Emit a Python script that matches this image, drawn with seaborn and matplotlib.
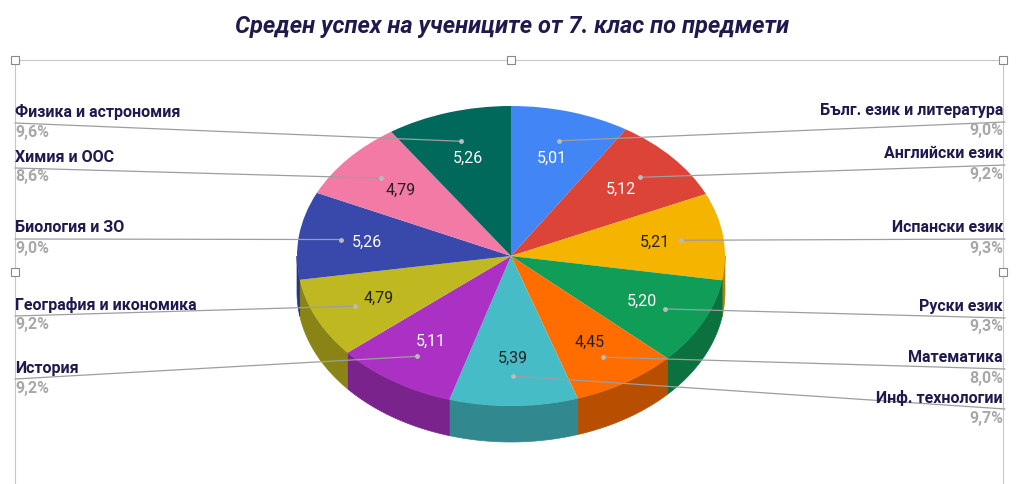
import numpy as np
import matplotlib
matplotlib.use("Agg")
import matplotlib.pyplot as plt
import seaborn as sns
from matplotlib.transforms import Affine2D
from matplotlib.patches import Polygon, Rectangle

sns.set_theme(style="white")
plt.rcParams['font.family'] = ['Roboto', 'DejaVu Sans']

# --- Data (clockwise from top) ---
subjects = ["Бълг. език и литература", "Английски език", "Испански език", "Руски език",
            "Математика", "Инф. технологии", "История", "География и икономика",
            "Биология и ЗО", "Химия и ООС", "Физика и астрономия"]
grades = [5.01, 5.12, 5.21, 5.20, 4.45, 5.39, 5.11, 4.79, 5.26, 4.79, 5.26]
shares = ["9,0%", "9,2%", "9,3%", "9,3%", "8,0%", "9,7%", "9,2%", "9,2%", "9,0%", "8,6%", "9,6%"]
colors = ["#4285F4", "#DB4437", "#F4B400", "#0F9D58", "#FF6D00", "#46BDC6",
          "#AB30C4", "#C0B820", "#3949AB", "#F47AA6", "#00695C"]
dark_text = [False, False, True, False, True, True, False, True, False, True, False]

# label layout (pixel y of name line, side)
label_y = [111, 154, 228, 307, 358, 398, 368, 305, 228, 157, 112]
side = ["R", "R", "R", "R", "R", "R", "L", "L", "L", "L", "L"]

W, H = 1024, 484
CX, CY, RX, RY, DEPTH = 511, H - 256, 214, 150, 36
NAVY = "#1F1A4D"

fig = plt.figure(figsize=(W / 100, H / 100), dpi=100)
ax = fig.add_axes([0, 0, 1, 1])

def darken(c, f=0.72):
    r, g, b = matplotlib.colors.to_rgb(c)
    return (r * f, g * f, b * f)

# slice angles (degrees, math convention), clockwise from 90
vals = np.array(grades)
cum = np.concatenate([[0], np.cumsum(vals)]) / vals.sum() * 360
starts = 90 - cum[:-1]
ends = 90 - cum[1:]

# side walls (front half only: angles 180..360)
for s, e, c in zip(starts, ends, colors):
    lo, hi = min(s, e), max(s, e)
    for off in (-360, 0, 360):
        l, h = max(lo + off, 180), min(hi + off, 360)
        if h > l:
            t = np.radians(np.linspace(l, h, 40))
            xs = CX + RX * np.cos(t)
            ys = CY + RY * np.sin(t)
            pts = np.column_stack([np.concatenate([xs, xs[::-1]]),
                                   np.concatenate([ys, ys[::-1] - DEPTH])])
            ax.add_patch(Polygon(pts, closed=True, fc=darken(c), ec=darken(c), lw=0.5, zorder=1))

# top face
wedges, _ = ax.pie(grades, startangle=90, counterclock=False, colors=colors,
                   wedgeprops=dict(linewidth=0))
tr = Affine2D().scale(RX, RY).translate(CX, CY) + ax.transData
for w in wedges:
    w.set_transform(tr)
    w.set_zorder(2)

for i, (s, e) in enumerate(zip(starts, ends)):
    m = np.radians((s + e) / 2)
    tx, ty = CX + 0.68 * RX * np.cos(m), CY + 0.68 * RY * np.sin(m)
    ax.text(tx, ty, f"{grades[i]:.2f}".replace(".", ","), ha="center", va="center",
            fontsize=11.5, color="#222222" if dark_text[i] else "white", zorder=3)
    # leader
    px, py = CX + 0.8 * RX * np.cos(m), CY + 0.8 * RY * np.sin(m)
    ly = H - label_y[i] - 11
    ex = 1005 if side[i] == "R" else 15
    ax.plot([px, ex], [py, ly], color="#9e9e9e", lw=0.9, zorder=4)
    ax.plot(px, py, "o", ms=2.5, color="#bbbbbb", zorder=5)
    ha = "right" if side[i] == "R" else "left"
    tx2 = 1003 if side[i] == "R" else 15
    ax.text(tx2, H - label_y[i], subjects[i], ha=ha, va="center", fontsize=11.5,
            fontweight="bold", color=NAVY, zorder=6)
    ax.text(tx2, H - label_y[i] - 20, shares[i], ha=ha, va="center", fontsize=11.5,
            fontweight="bold", color="#a8a8a8", zorder=6)

# selection frame
ax.plot([15, 1003], [H - 60, H - 60], color="#c8c8c8", lw=0.8)
ax.plot([15, 15], [H - 60, 0], color="#c8c8c8", lw=0.8)
ax.plot([1003, 1003], [H - 60, 0], color="#c8c8c8", lw=0.8)
for hx, hy in [(15, 60), (511, 60), (1003, 60), (15, 272), (1003, 272)]:
    ax.add_patch(Rectangle((hx - 4, H - hy - 4), 8, 8, fc="white", ec="#888888", lw=0.8, zorder=7))

ax.text(W / 2, H - 27, "Среден успех на учениците от 7. клас по предмети", ha="center",
        va="center", fontsize=17, fontweight="bold", fontstyle="italic", color=NAVY)

ax.set_aspect("auto")
ax.set_xlim(0, W)
ax.set_ylim(0, H)
ax.axis("off")
fig.savefig("out.png", dpi=100)
